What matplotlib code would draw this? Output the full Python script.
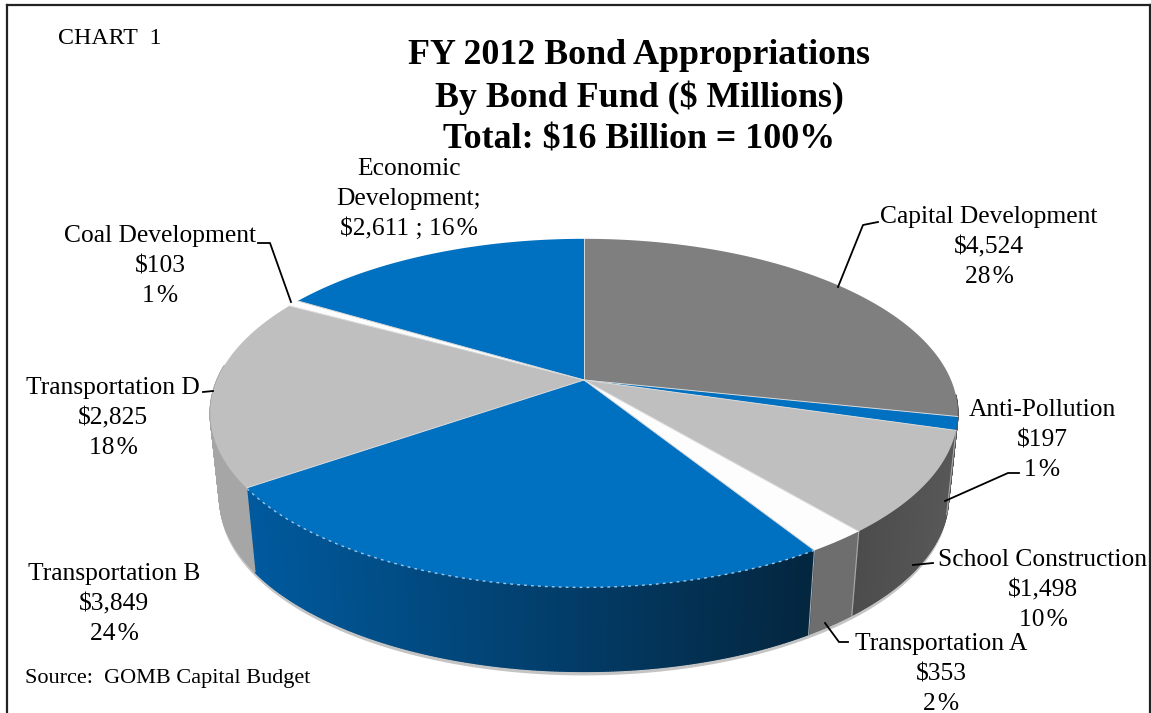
import numpy as np
import matplotlib
matplotlib.use("Agg")
import matplotlib.pyplot as plt
from matplotlib.collections import PolyCollection
from matplotlib.colors import to_rgb

plt.rcParams['font.family'] = ['Liberation Serif', 'DejaVu Serif']

# bond funds, clockwise from twelve o'clock
funds = ["Capital Development", "Anti-Pollution", "School Construction", "Transportation A",
         "Transportation B", "Transportation D", "Coal Development", "Economic Development"]
amounts = [4524, 197, 1498, 353, 3849, 2825, 103, 2611]
percents = [28, 1, 10, 2, 24, 18, 1, 16]

top_colors = ["#7f7f7f", "#0070c0", "#bfbfbf", "#fdfdfd", "#0070c0", "#bfbfbf", "#fdfdfd", "#0070c0"]
# colour of the outer wall, left end and right end as seen on screen
wall_colors = [("#555555", "#555555"), ("#555555", "#555555"), ("#4c4c4c", "#585858"),
               ("#6e6e6e", "#6e6e6e"), ("#005a9e", "#04263f"), ("#a6a6a6", "#a6a6a6"),
               ("#a6a6a6", "#a6a6a6"), ("#005a9e", "#005a9e")]

title_lines = ["FY 2012 Bond Appropriations", "By Bond Fund ($ Millions)", "Total: $16 Billion = 100%"]

# pie geometry, in pixels
cx, cy = 584, 380
rx, ry = 367, 168
persp = 0.19
depth = 84
shrink = 0.975


def project(theta, r=1.0):
    # theta in degrees clockwise from the back of the pie
    t = np.radians(theta)
    u = np.sin(t) * r
    v = np.cos(t) * r
    s = 1 / (1 + persp * v)
    return cx + rx * u * s, cy - ry * v * s


def rim(theta, extra=0):
    x, y = project(theta)
    return cx + (x - cx) * shrink, y + depth + extra


fig = plt.figure(figsize=(11.51, 7.13), dpi=100)
ax = fig.add_axes([0, 0, 1, 1])
ax.set_xlim(0, 1151)
ax.set_ylim(713, 0)
ax.axis('off')

# frame around the chart
ax.plot([7, 7], [713, 5], color='#222222', lw=1.6, solid_capstyle='projecting')
ax.plot([7, 1150], [5, 5], color='#222222', lw=1.6)
ax.plot([1150, 1150], [5, 713], color='#222222', lw=1.6)

edges = np.concatenate([[0], np.cumsum(amounts)]) / sum(amounts) * 360

# faint shadow under the wall
a = np.linspace(95, 275, 200)
xt, yt = project(a)
xb, yb = rim(a, 4)
ax.fill(np.concatenate([xt, xb[::-1]]), np.concatenate([yt, yb[::-1]]), color='#c4c4c4', lw=0, zorder=1)

# outer wall, built from thin strips so the shading can change along it
for i in range(len(amounts)):
    start = max(edges[i], 95)
    stop = min(edges[i + 1], 275)
    if stop <= start:
        continue
    a = np.linspace(start, stop, int((stop - start) * 3) + 2)
    xt, yt = project(a)
    xb, yb = rim(a)
    c0 = np.array(to_rgb(wall_colors[i][0]))
    c1 = np.array(to_rgb(wall_colors[i][1]))
    lo, hi = xt.min(), xt.max()
    quads = []
    cols = []
    for j in range(len(a) - 1):
        quads.append([(xt[j], yt[j]), (xt[j + 1], yt[j + 1]), (xb[j + 1], yb[j + 1]), (xb[j], yb[j])])
        f = (xt[j] - lo) / (hi - lo)
        cols.append(c0 + (c1 - c0) * f)
    ax.add_collection(PolyCollection(quads, facecolors=cols, edgecolors=cols, linewidths=1.0, zorder=2))

# light seams between the wall segments
for e in edges[2:5]:
    xt, yt = project(e)
    xb, yb = rim(e)
    ax.plot([xt, xb], [yt, yb], color='#a8a8a8', lw=0.8, zorder=3)

# top face, with thin light lines along the radii
for i in range(len(amounts)):
    a = np.linspace(edges[i], edges[i + 1], 200)
    x, y = project(a)
    ax.fill(np.concatenate([[cx], x]), np.concatenate([[cy], y]), facecolor=top_colors[i], lw=0, zorder=4)
for e in edges[:-1]:
    x, y = project(e)
    ax.plot([cx, x], [cy, y], color='#d8d8d8', lw=0.7, zorder=5)

# dotted highlight where the large blue face meets its wall
x, y = project(np.linspace(edges[4], edges[5], 200))
ax.plot(x, y, color='#9fc6e6', lw=1.0, ls=(0, (2, 3)), zorder=5)

# labels: name lines, then value and percent below
label_rows = [
    (["Capital Development"], 989, 217),
    (["Anti-Pollution"], 1042, 410),
    (["School Construction"], 1043, 560),
    (["Transportation A"], 941, 644),
    (["Transportation B"], 114, 574),
    (["Transportation D"], 113, 388),
    (["Coal Development"], 160, 236),
    (["Economic", "Development;"], 409, 169),
]
spacing = 30
for i in range(len(amounts)):
    names, lx, ly = label_rows[i]
    pct = str(percents[i]) + "\u200a%"
    if funds[i] == "Economic Development":
        rows = names + ["$" + format(amounts[i], ",") + " ; " + pct]
    else:
        rows = names + ["$" + format(amounts[i], ","), pct]
    for k, row in enumerate(rows):
        ax.text(lx, ly + k * spacing, row, ha='center', va='center', fontsize=18.4, color='black', zorder=6)

# leader lines
leaders = [
    ([838, 863, 878], [287, 225, 222]),
    ([945, 1008, 1019], [501, 473, 473]),
    ([913, 933], [565, 563]),
    ([825, 839, 848], [623, 642, 642]),
    ([203, 213], [392, 391]),
    ([258, 270, 291], [243, 243, 302]),
]
for lx, ly in leaders:
    ax.plot(lx, ly, color='black', lw=1.3, zorder=6)

for k, line in enumerate(title_lines):
    ax.text(639, 56 + k * 42, line, ha='center', va='center', fontsize=25.8, fontweight='bold', zorder=6)

ax.text(58, 38, "CHART  1", ha='left', va='center', fontsize=17.2)
ax.text(25, 678, "Source:  GOMB Capital Budget", ha='left', va='center', fontsize=16)

fig.savefig("out.png", dpi=100)
